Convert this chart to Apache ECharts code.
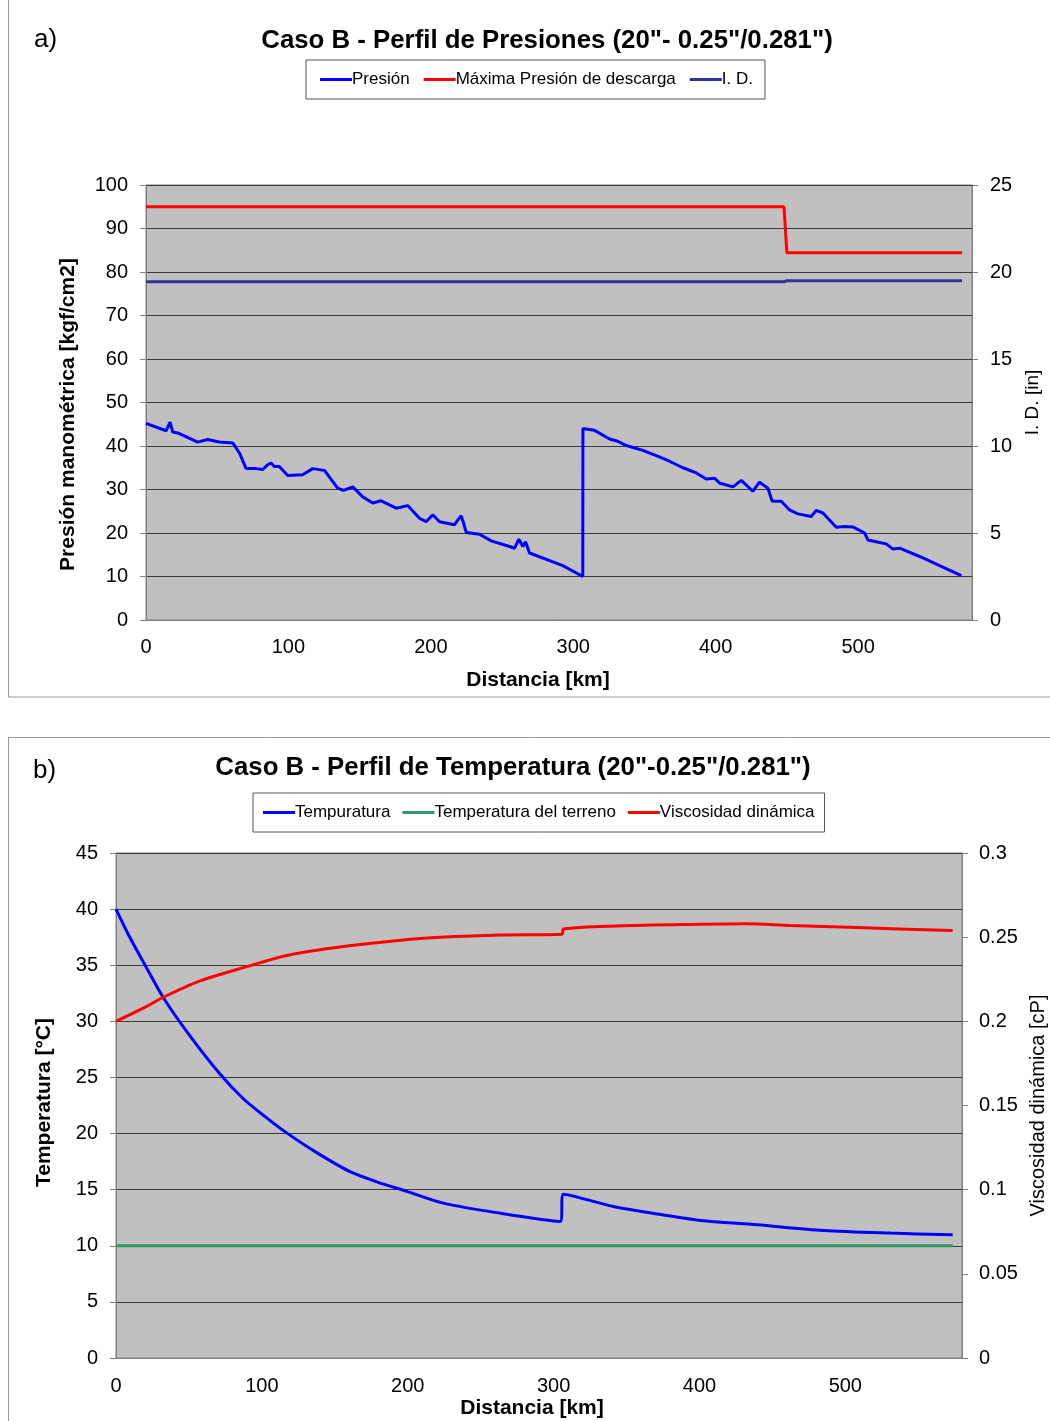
<!DOCTYPE html>
<html><head><meta charset="utf-8">
<script src="https://cdn.jsdelivr.net/npm/echarts@6/dist/echarts.min.js"></script>
<style>html,body{margin:0;padding:0;background:#fff}#c{width:1050px;height:1421px}</style>
</head><body><div id="c"></div>
<script>
// ---- Chart a) data ----
const presDist = [0,14.1,16.9,18.8,22.3,36.3,43.3,51.5,60.9,65.6,70.3,77.3,82,85.5,87.8,90.1,93.6,99.5,110,117,125.3,134.6,138.6,145.2,152.2,159.2,165.1,175.7,183.8,192,196.7,201.4,206.1,216.6,221.3,222.8,224.9,234.2,242.4,255.3,258.8,261.8,264.6,266.5,269.3,292.7,306.7,306.8,314.9,325.5,331.3,337.2,348.9,358.3,367.6,377,386.4,393.4,399.2,402.7,412.1,418,426.1,430.8,436.7,439.7,446.1,451.9,457.7,467.1,470.6,475.3,484.7,490.5,496.3,504.6,506.9,515.1,519.8,524.5,529.2,543.2,557.3,572.5];
const presVal  = [45.2,43.5,45.5,43.2,43.0,40.9,41.5,40.9,40.7,38.4,34.8,34.8,34.6,35.7,36.1,35.3,35.3,33.2,33.4,34.8,34.4,30.3,29.8,30.6,28.3,26.9,27.4,25.7,26.3,23.4,22.6,24.2,22.6,21.9,24.0,22.5,20.1,19.7,18.2,16.9,16.5,18.6,16.9,18.0,15.4,12.5,10.0,44.0,43.6,41.6,41.1,40.1,39.0,37.8,36.5,35.0,33.8,32.4,32.6,31.5,30.6,32.1,29.6,31.7,30.3,27.3,27.3,25.3,24.4,23.8,25.2,24.6,21.3,21.5,21.4,20.0,18.4,17.8,17.5,16.3,16.5,14.6,12.5,10.2];
const maxDist = [0,448,450,573];
const maxVal  = [95,95,84.4,84.4];
const idDist  = [0,448,450,573];
const idVal   = [19.44,19.44,19.5,19.5];

// ---- Chart b) data ----
const tempDist = [0,9,18.7,32.5,50.7,71.3,87.3,103.3,117,137.6,160.5,178.8,199.4,224.4,263.4,304.5,306.8,341,377.6,400.5,439.4,485.1,530.9,573.6];
const tempVal  = [40,37.6,35.3,32.1,28.7,25.3,23.1,21.4,20.06,18.3,16.6,15.7,14.85,13.8,12.9,12.17,14.6,13.5,12.7,12.26,11.87,11.37,11.13,10.98];
const groundDist = [0,573.6];
const groundVal  = [10,10];
const viscDist = [0,18.7,32.5,57.6,87.3,119.3,155.9,201.6,222.2,263.4,305.7,306.8,343.4,400.5,432.5,462.3,508,573.6];
const viscVal  = [0.2,0.2078,0.2143,0.224,0.2319,0.2395,0.2444,0.2488,0.25,0.2513,0.2518,0.2549,0.2567,0.2577,0.258,0.2569,0.2557,0.2539];

const zip = (a,b) => a.map((x,i)=>[x,b[i]]);
const FONT = '"Liberation Sans", Arial, sans-serif';

const chart = echarts.init(document.getElementById('c'), null, {renderer:'canvas'});

function xAxisDef(gridIndex, nameGap, margin, namePad){
  return {
    type:'value', gridIndex, min:0, max:580, interval:100,
    name:'Distancia [km]', nameLocation:'middle', nameGap,
    nameTextStyle:{fontFamily:FONT, fontSize:21, fontWeight:'bold', color:'#000', padding:namePad},
    axisLine:{show:true, lineStyle:{color:'#808080', width:1}},
    axisTick:{show:false},
    splitLine:{show:false},
    axisLabel:{fontFamily:FONT, fontSize:20, color:'#000', margin,
      formatter: v => (v % 100 === 0 ? String(v) : '')}
  };
}
function yAxisDef(gridIndex, pos, min, max, interval, name, nameGap, bold, nameSize, namePad, split, fmt, margin){
  return {
    type:'value', gridIndex, position:pos, min, max, interval,
    name, nameLocation:'middle', nameGap, nameRotate:90,
    nameTextStyle:{fontFamily:FONT, fontSize:nameSize, fontWeight:bold?'bold':'normal', color:'#000', padding:namePad},
    axisLine:{show:true, lineStyle:{color:'#808080', width:1}},
    axisTick:{show:true, inside:false, length:6, lineStyle:{color:'#808080'}},
    splitLine:{show:split, lineStyle:{color:'#3a3a3a', width:1}},
    axisLabel:{fontFamily:FONT, fontSize:20, color:'#000', margin, formatter: fmt}
  };
}

chart.setOption({
  animation:false,
  backgroundColor:'#fff',
  graphic:[
    {type:'rect', shape:{x:8.5, y:-3, width:1050, height:700}, style:{fill:'none', stroke:'#999', lineWidth:1}},
    {type:'rect', shape:{x:8.5, y:737.5, width:1050, height:700}, style:{fill:'none', stroke:'#999', lineWidth:1}},
    {type:'text', left:34, top:27, style:{text:'a)', font:'26px '+FONT, fill:'#000'}},
    {type:'text', left:33, top:758, style:{text:'b)', font:'26px '+FONT, fill:'#000'}}
  ],
  title:[
    {text:'Caso B - Perfil de Presiones (20"- 0.25"/0.281")', left:542, top:23, textAlign:'center',
     textStyle:{fontFamily:FONT, fontSize:25.8, fontWeight:'bold', color:'#000'}},
    {text:'Caso B - Perfil de Temperatura (20"-0.25"/0.281")', left:508, top:750, textAlign:'center',
     textStyle:{fontFamily:FONT, fontSize:25.8, fontWeight:'bold', color:'#000'}}
  ],
  legend:[
    {data:['Presión','Máxima Presión de descarga','I. D.'], left:306, top:60, orient:'horizontal',
     icon:'rect', itemWidth:32, itemHeight:3, itemGap:14, padding:[11,12,11,14],
     borderColor:'#555', borderWidth:1, borderRadius:0,
     textStyle:{fontFamily:FONT, fontSize:17, color:'#000', padding:[0,0,0,-5]}},
    {data:['Tempuratura','Temperatura del terreno','Viscosidad dinámica'], left:253, top:793, orient:'horizontal',
     icon:'rect', itemWidth:32, itemHeight:3, itemGap:12, padding:[11,10,11,10],
     borderColor:'#555', borderWidth:1, borderRadius:0,
     textStyle:{fontFamily:FONT, fontSize:17, color:'#000', padding:[0,0,0,-5]}}
  ],
  grid:[
    {left:146, top:185, width:826, height:435, show:true, backgroundColor:'#C0C0C0', borderColor:'#808080', borderWidth:1, outerBoundsMode:'none', containLabel:false},
    {left:116, top:853, width:846, height:505, show:true, backgroundColor:'#C0C0C0', borderColor:'#808080', borderWidth:1, outerBoundsMode:'none', containLabel:false}
  ],
  xAxis:[ xAxisDef(0, 50, 17, [0,42,0,0]), xAxisDef(1, 40, 18, [0,14,0,0]) ],
  yAxis:[
    yAxisDef(0,'left',0,100,10,'Presión manométrica [kgf/cm2]',67,true,21,[0,24,0,0],true,null,18),
    yAxisDef(0,'right',0,25,5,'I. D. [in]',37,false,19,0,false,null,18),
    yAxisDef(1,'left',0,45,5,'Temperatura [°C]',61,true,21,[0,0,0,6],true,null,18),
    yAxisDef(1,'right',0,0.3,0.05,'Viscosidad dinámica [cP]',61,false,20,0,false, v => String(+v.toFixed(2)),17)
  ],
  series:[
    {name:'Presión', type:'line', xAxisIndex:0, yAxisIndex:0, data:zip(presDist,presVal), showSymbol:false,
     lineStyle:{color:'#0000FF', width:3}, itemStyle:{color:'#0000FF'}},
    {name:'Máxima Presión de descarga', type:'line', xAxisIndex:0, yAxisIndex:0, data:zip(maxDist,maxVal), showSymbol:false,
     lineStyle:{color:'#FF0000', width:3}, itemStyle:{color:'#FF0000'}},
    {name:'I. D.', type:'line', xAxisIndex:0, yAxisIndex:1, data:zip(idDist,idVal), showSymbol:false,
     lineStyle:{color:'#333399', width:3}, itemStyle:{color:'#333399'}},
    {name:'Tempuratura', type:'line', xAxisIndex:1, yAxisIndex:2, data:zip(tempDist,tempVal), showSymbol:false, smooth:0.3,
     lineStyle:{color:'#0000FF', width:3}, itemStyle:{color:'#0000FF'}},
    {name:'Temperatura del terreno', type:'line', xAxisIndex:1, yAxisIndex:2, data:zip(groundDist,groundVal), showSymbol:false,
     lineStyle:{color:'#339966', width:3}, itemStyle:{color:'#339966'}},
    {name:'Viscosidad dinámica', type:'line', xAxisIndex:1, yAxisIndex:3, data:zip(viscDist,viscVal), showSymbol:false, smooth:0.3,
     lineStyle:{color:'#FF0000', width:3}, itemStyle:{color:'#FF0000'}}
  ]
});
</script>
</body></html>
